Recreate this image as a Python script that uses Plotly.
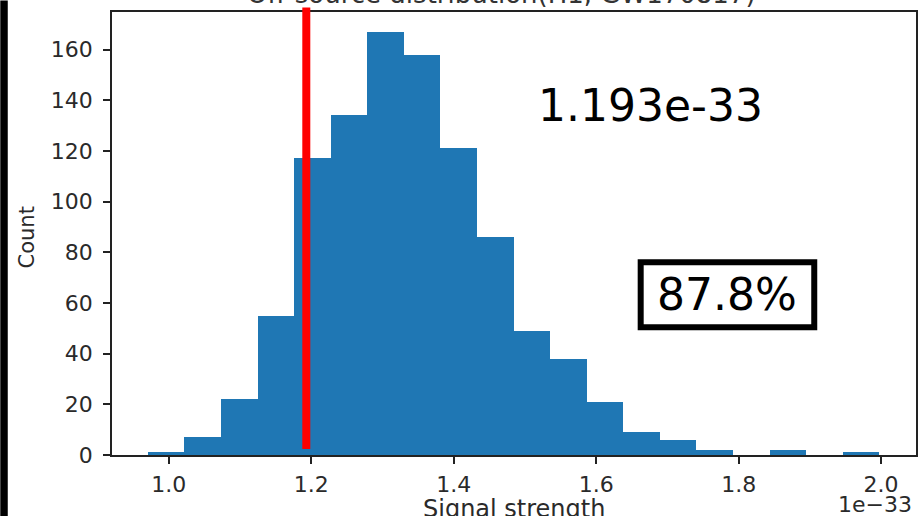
import numpy as np
import plotly.graph_objects as go

# ---- data (signal strength in units of 1e-33) ----
bin_start = 0.9705
bin_width = 0.05135
counts = [1, 7, 22, 55, 117, 134, 167, 158, 121, 86, 49, 38, 21, 9, 6, 2, 0, 2, 0, 1]
threshold = 1.193
threshold_label = "1.193e-33"
percent_label = "87.8%"
x_ticks = [1.0, 1.2, 1.4, 1.6, 1.8, 2.0]
y_ticks = [0, 20, 40, 60, 80, 100, 120, 140, 160]
title_text = "Off-source distribution(H1, GW170817)"

centers = bin_start + bin_width * (np.arange(len(counts)) + 0.5)

W, H = 920, 516
L, R, T, B = 112, 2, 11.5, 61
pw, ph = W - L - R, H - T - B


def px(x):
    return (x - L) / pw


def py(y):
    return (H - B - y) / ph


fig = go.Figure()
fig.add_trace(go.Bar(x=centers, y=counts, width=bin_width,
                     marker=dict(color="#1f77b4", line=dict(width=0)),
                     hoverinfo="skip"))

font = "DejaVu Sans"
tc = "#2a2a2a"

fig.update_layout(
    width=W, height=H,
    margin=dict(l=L, r=R, t=T, b=B),
    paper_bgcolor="white", plot_bgcolor="white",
    showlegend=False, bargap=0,
    xaxis=dict(range=[0.9202, 2.049], tickvals=x_ticks, tickformat=".1f",
               showgrid=False, zeroline=False, showline=True, mirror=True,
               linecolor="#222", linewidth=1.5, ticks="outside", ticklen=7,
               tickwidth=1.5, tickcolor="#222", ticklabelstandoff=2,
               tickfont=dict(family=font, size=22, color=tc)),
    yaxis=dict(range=[0, 174.8], tickvals=y_ticks,
               showgrid=False, zeroline=False, showline=True, mirror=True,
               linecolor="#222", linewidth=1.5, ticks="outside", ticklen=7,
               tickwidth=1.5, tickcolor="#222", ticklabelstandoff=6,
               tickfont=dict(family=font, size=22, color=tc)),
)

# red threshold line
fig.add_shape(type="line", xref="x", yref="paper", x0=threshold, x1=threshold,
              y0=py(449), y1=py(7), line=dict(color="#ff0000", width=8))

# black band at left edge
fig.add_shape(type="rect", xref="paper", yref="paper", x0=px(0), x1=px(7.5),
              y0=py(H), y1=py(0), line=dict(width=0), fillcolor="black", layer="above")

# box around percentage
fig.add_shape(type="rect", xref="paper", yref="paper", x0=px(642), x1=px(816),
              y0=py(327), y1=py(262), line=dict(color="black", width=6),
              fillcolor="rgba(0,0,0,0)")

ann = [
    dict(text=threshold_label, x=px(652), y=py(105), font=dict(family=font, size=44, color="black"),
         xanchor="center", yanchor="middle"),
    dict(text=percent_label, x=px(729), y=py(294), font=dict(family=font, size=44, color="black"),
         xanchor="center", yanchor="middle"),
    dict(text="Count", x=px(27), y=py(237), textangle=-90, font=dict(family=font, size=21, color=tc),
         xanchor="center", yanchor="middle"),
    dict(text="Signal strength", x=px(515), y=py(509), font=dict(family=font, size=24, color=tc),
         xanchor="center", yanchor="middle"),
    dict(text="1e\u221233", x=px(916), y=py(505), font=dict(family=font, size=22, color=tc),
         xanchor="right", yanchor="middle"),
    dict(text=title_text, x=px(502), y=py(10), font=dict(family=font, size=26, color="#333"),
         xanchor="center", yanchor="bottom"),
]
for a in ann:
    fig.add_annotation(xref="paper", yref="paper", showarrow=False, **a)

fig.write_html("out.html")
